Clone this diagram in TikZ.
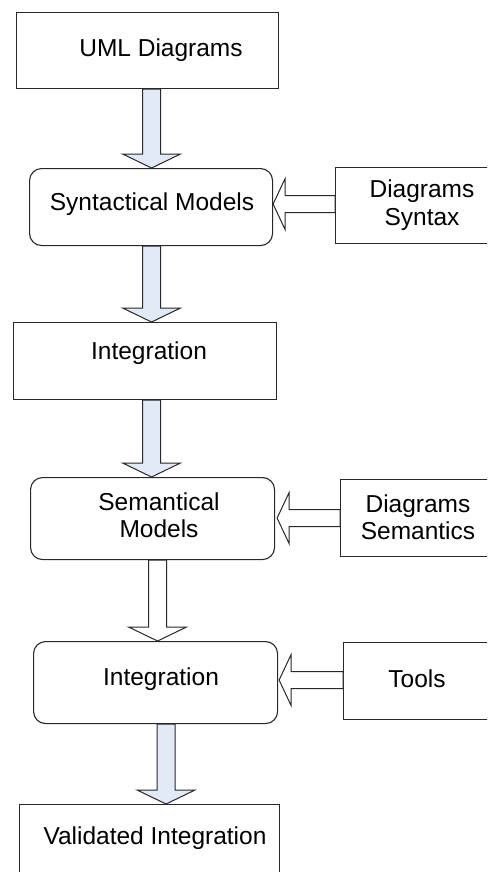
\documentclass[tikz,border=0pt]{standalone}
\usepackage{fontspec}
\setmainfont{Liberation Sans}
\usetikzlibrary{calc}
\definecolor{flowblue}{RGB}{226,233,247}
\definecolor{edgegray}{RGB}{40,40,40}

% vertical block arrow: #1 start on the upper node, #2 tip on the lower node, #3 fill
\newcommand\flowdown[3]{%
  \path[blockarrow, fill=#3] let \p1=#1, \p2=#2 in
    (\x1-9pt,\y1) -- (\x1-9pt,\y2+14pt) -- (\x1-29pt,\y2+14pt) -- (\x1,\y2)
    -- (\x1+29pt,\y2+14pt) -- (\x1+9pt,\y2+14pt) -- (\x1+9pt,\y1) -- cycle;}
% horizontal block arrow pointing left: #1 start on the right node, #2 tip on the left node
\newcommand\flowleft[3]{%
  \path[blockarrow, fill=#3] let \p1=#1, \p2=#2 in
    (\x1,\y1+8.5pt) -- (\x2+12pt,\y1+8.5pt) -- (\x2+12pt,\y1+25.5pt) -- (\x2,\y1)
    -- (\x2+12pt,\y1-25.5pt) -- (\x2+12pt,\y1-8.5pt) -- (\x1,\y1-8.5pt) -- cycle;}

\begin{document}
\begin{tikzpicture}[x=1pt,y=-1pt,
  box/.style={draw=edgegray, line width=1.1pt, fill=white, inner sep=0pt, anchor=north west},
  roundbox/.style={box, rounded corners=12pt},
  lbl/.style={font=\fontsize{24.5}{27.5}\selectfont, align=center, inner sep=0pt, text=black},
  blockarrow/.style={draw=edgegray, line width=1pt, line join=miter}]
\useasboundingbox (0,0) rectangle (487,872);
\clip (0,0) rectangle (487,872);

% main column
\node[box, minimum width=262pt, minimum height=76pt] (uml) at (16,12) {};
\node[roundbox, minimum width=243pt, minimum height=77pt] (syn) at (29,168) {};
\node[box, minimum width=263pt, minimum height=77pt] (int1) at (13,322) {};
\node[roundbox, minimum width=244pt, minimum height=82pt] (sem) at (30,477) {};
\node[roundbox, minimum width=244pt, minimum height=82pt] (int2) at (33,641) {};
\node[box, minimum width=260pt, minimum height=90pt] (val) at (19,804) {};

% side inputs
\node[box, minimum width=170pt, minimum height=76pt] (dsyn) at (335,167) {};
\node[box, minimum width=165pt, minimum height=77pt] (dsem) at (340,479) {};
\node[box, minimum width=162pt, minimum height=77pt] (tools) at (343,642) {};

% labels
\node[lbl] (tuml) at (161,50) {UML Diagrams};
\node[lbl] (tsyn) at (152,204) {Syntactical Models};
\node[lbl] (tint1) at (149,353) {Integration};
\node[lbl] (tsem) at (159,515) {Semantical\\Models};
\node[lbl] (tint2) at (161,679) {Integration};
\node[lbl] (tval) at (155,838) {Validated Integration};
\node[lbl] (tdsyn) at (422,205) {Diagrams\\Syntax};
\node[lbl] (tdsem) at (418,517) {Diagrams\\Semantics};
\node[lbl] (ttools) at (417,679) {Tools};

% flow arrows
\flowdown{($(uml.south)+(4,0)$)}{(syn.north)}{flowblue}
\flowdown{($(syn.south)+(0.5,0)$)}{(int1.north)}{flowblue}
\flowdown{($(int1.south)+(6.5,0)$)}{(sem.north)}{flowblue}
\flowdown{($(sem.south)+(5,0)$)}{(int2.north)}{white}
\flowdown{($(int2.south)+(10.5,0)$)}{(val.north)}{flowblue}

\flowleft{($(dsyn.west)+(0,-1.5)$)}{(syn.east)}{white}
\flowleft{(dsem.west)}{($(sem.east)+(2,0)$)}{white}
\flowleft{($(tools.west)+(0,-1)$)}{($(int2.east)+(1,0)$)}{white}
\end{tikzpicture}
\end{document}
